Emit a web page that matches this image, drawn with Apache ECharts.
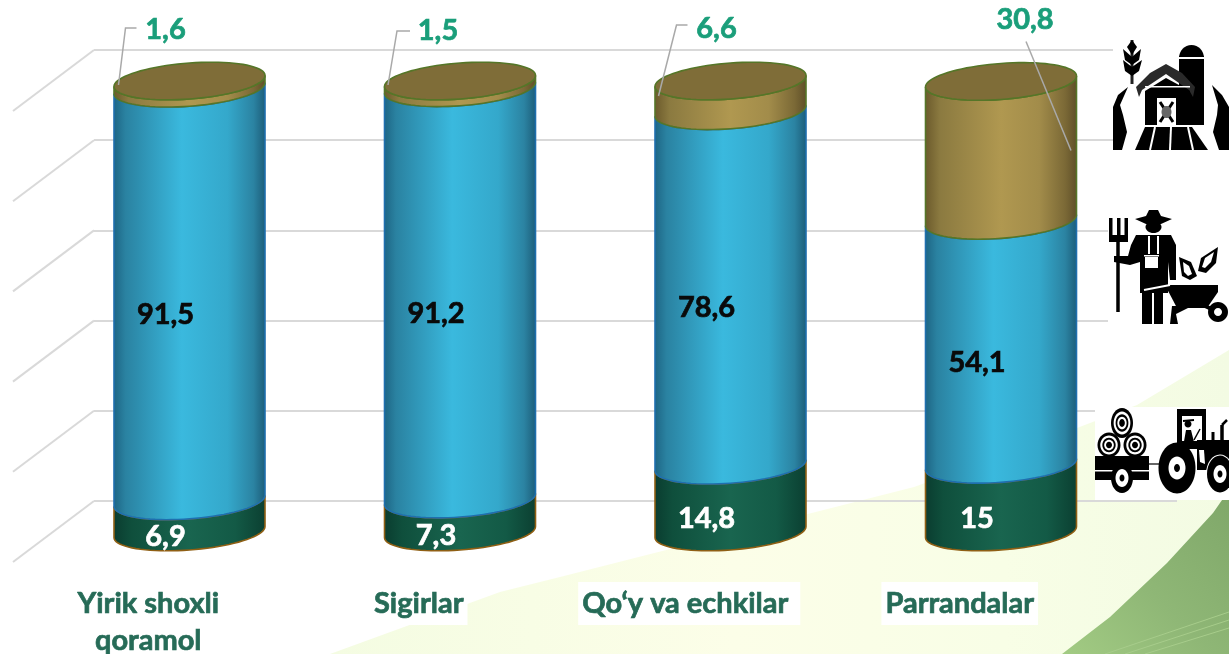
<!DOCTYPE html>
<html><head><meta charset="utf-8">
<style>html,body{margin:0;padding:0;background:#fff}#c{width:1229px;height:654px}</style>
<script src="https://cdn.jsdelivr.net/npm/echarts@6/dist/echarts.min.js"></script>
</head><body><div id="c"></div>
<script>
const categories = ['Yirik shoxli\nqoramol', 'Sigirlar', 'Qo‘y va echkilar', 'Parrandalar'];
const greenValues = [6.9, 7.3, 14.8, 15];
const blueValues = [91.5, 91.2, 78.6, 54.1];
const brownValues = [1.6, 1.5, 6.6, 30.8];
const wallTicks = [0, 20, 40, 60, 80, 100];

const FONT = 'Lato, "Open Sans", sans-serif';
const chart = echarts.init(document.getElementById('c'));
const LG = (stops) => new echarts.graphic.LinearGradient(0, 0, 1, 0, stops.map((c) => ({offset: c[0], color: c[1]})));
const A = 75.5, SKEW = 5.5, B = 18;

function arc(cx, cy, from, to) {
  const pts = [];
  for (let i = 0; i <= 40; i++) {
    const t = from + (to - from) * i / 40;
    pts.push([cx + A * Math.cos(t), cy - SKEW * Math.cos(t) + B * Math.sin(t)]);
  }
  return pts;
}
const fmt = (v) => String(v).replace('.', ',');

const styles = [
  {fill: LG([[0,'#0a3c2f'],[0.12,'#0f4f3c'],[0.5,'#19654f'],[0.8,'#135a46'],[1,'#0b3f31']]), stroke: '#8f5f14', label: '#fff'},
  {fill: LG([[0,'#1d6483'],[0.08,'#2a82a1'],[0.45,'#3ab9de'],[0.75,'#34a8cb'],[0.92,'#2b83a2'],[1,'#1c5c78']]), stroke: '#1f6fae', label: '#0a0a0a'},
  {fill: LG([[0,'#6a592b'],[0.1,'#8b7a40'],[0.5,'#b09850'],[0.75,'#a28c4a'],[0.92,'#7b6936'],[1,'#5e4e28']]), stroke: '#557628', label: '#1a9e7a'}
];
// leader-line bends and label spots for the outside labels, relative to the top of each cylinder
const leaderOffsets = [
  {pts: [[-71, 4], [-64, -53], [-53, -53]], text: [-24, -51]},
  {pts: [[-72, 4], [-63, -50], [-50, -50]], text: [-22, -50]},
  {pts: [[-72, 15], [-54, -56], [-43, -56]], text: [-14, -52]},
  {pts: [[70, 69], [25, -40]], text: [24, -62]}
];

function segmentSeries(k, values, lowerArrays) {
  const rows = values.map((v, i) => {
    const low = lowerArrays.reduce((s, a) => s + a[i], 0);
    return [i, low, low + v, v];
  });
  return {
    type: 'custom', xAxisIndex: 0, yAxisIndex: 0, z: 5 + k, silent: true, clip: false,
    data: rows,
    renderItem(params, api) {
      const i = api.value(0), low = api.value(1), up = api.value(2), val = api.value(3);
      const p0 = api.coord([i, low]), p1 = api.coord([i, up]);
      const cx = p0[0];
      const top = arc(cx, p1[1], Math.PI, 0);
      const bottom = arc(cx, p0[1], 0, Math.PI);
      const s = styles[k];
      const children = [{
        type: 'polygon', shape: {points: top.concat(bottom)},
        style: {fill: s.fill, stroke: s.stroke, lineWidth: 1.6}
      }];
      const txt = (x, y) => ({type: 'text', style: {text: fmt(val), x, y, fill: s.label,
        stroke: s.label, lineWidth: 0.7, font: 'bold 29px ' + FONT, align: 'center', verticalAlign: 'middle'}});
      if (k === 2) {
        const full = arc(cx, p1[1], Math.PI, 0).concat(arc(cx, p1[1], 0, -Math.PI));
        children.push({type: 'polygon', shape: {points: full}, style: {fill: '#7f6d38', stroke: s.stroke, lineWidth: 1.6}});
        const o = leaderOffsets[i];
        children.push({type: 'polyline', shape: {points: o.pts.map((q) => [cx + q[0], p1[1] + q[1]])},
          style: {fill: 'none', stroke: '#a9a9a9', lineWidth: 1.5}});
        children.push(txt(cx + o.text[0], p1[1] + o.text[1]));
      } else {
        const mid = api.coord([i, (low + up) / 2]);
        children.push(txt(cx - 24, mid[1] + 20));
      }
      return {type: 'group', children};
    }
  };
}

const wallSeries = {
  type: 'custom', xAxisIndex: 1, yAxisIndex: 1, z: 1, silent: true, clip: false,
  data: wallTicks.map((t) => [0, t]),
  renderItem(params, api) {
    const p = api.coord([api.value(0), api.value(1)]);
    return {type: 'line', shape: {x1: p[0], y1: p[1], x2: p[0] - 81, y2: p[1] + 61},
      style: {stroke: '#d9d9d9', lineWidth: 2}};
  }
};

// ---- decoration and icons ----
const Z = 20;
const K = '#000', W = '#fff';
const rect = (x, y, w, h, fill) => ({type: 'rect', z: Z, shape: {x, y, width: w, height: h}, style: {fill}});
const ell = (cx, cy, rx, ry, fill) => ({type: 'ellipse', z: Z, shape: {cx, cy, rx, ry}, style: {fill}});
const poly = (points, fill) => ({type: 'polygon', z: Z, shape: {points}, style: {fill}});
const ln = (x1, y1, x2, y2, w, c) => ({type: 'line', z: Z, shape: {x1, y1, x2, y2}, style: {stroke: c || K, lineWidth: w}});

const barn = [
  rect(1113, 40, 116, 110, W),
  ln(1132, 40, 1132, 84, 3, '#222'),
  poly([[1132,40],[1137,47],[1132,55],[1127,47]], K),
  poly([[1123,49],[1132,57],[1132,65],[1125,60]], K), poly([[1141,49],[1132,57],[1132,65],[1139,60]], K),
  poly([[1123,60],[1132,67],[1132,76],[1125,71]], K), poly([[1142,60],[1132,67],[1132,76],[1139,71]], K),
  rect(1179, 56, 25, 69, K), ell(1191.5, 58, 12.5, 13, K), rect(1179, 57, 25, 2, W),
  poly([[1136,87],[1150,73],[1166,64],[1182,73],[1195,87],[1193,97],[1189,90],[1166,74],[1142,90],[1139,97]], '#2a2a2a'),
  poly([[1145,91],[1166,78],[1190,91],[1190,125],[1145,125]], K),
  rect(1145, 86, 45, 1.5, W),
  rect(1157, 98, 19, 27, W), ln(1160, 102, 1173, 122, 3), ln(1173, 102, 1160, 122, 3), ell(1166.5, 112, 5, 6, '#666'),
  poly([[1128,87],[1118,95],[1113,107],[1113,150],[1122,150],[1127,132],[1123,115],[1120,105]], K),
  poly([[1212,85],[1222,95],[1229,107],[1229,150],[1219,150],[1213,132],[1217,115],[1218,105]], K),
  poly([[1145,127],[1192,127],[1208,150],[1135,150]], K),
  ln(1155, 127, 1150, 150, 2, W), ln(1171, 127, 1170, 150, 2, W), ln(1188, 127, 1193, 150, 2, W)
];
const farmer = [
  rect(1108, 200, 121, 128, W),
  poly([[1135,219],[1146,216],[1149,210],[1158,210],[1161,216],[1172,219],[1161,224],[1146,224]], K),
  ell(1153.5, 227, 8, 6, K),
  poly([[1136,235],[1171,235],[1176,245],[1176,280],[1170,280],[1168,262],[1168,293],[1140,293],[1140,262],[1130,265],[1114,262],[1114,256],[1128,256],[1131,245]], K),
  rect(1145, 257, 13, 11, W), rect(1148, 236, 2, 18, W), rect(1157, 236, 2, 18, W), rect(1144, 255, 15, 1.5, W),
  rect(1142, 293, 10, 31, K), rect(1154, 293, 9, 31, K),
  ln(1118, 240, 1118, 312, 3.5),
  rect(1109, 218, 3.5, 22, K), rect(1117, 218, 3.5, 22, K), rect(1124.5, 218, 3.5, 22, K), rect(1109, 235, 19, 7, K),
  poly([[1165,285],[1218,285],[1218,292],[1207,308],[1177,308]], K),
  poly([[1172,306],[1192,306],[1176,314],[1178,324],[1170,324]], K),
  ln(1205, 306, 1218, 312, 4),
  ln(1144, 290, 1170, 285, 2, W),
  ell(1218, 312, 10, 10, K), ell(1218, 312, 4, 4, W),
  poly([[1179,257],[1191,262],[1197,276],[1190,280],[1182,276]], K), poly([[1183,262],[1189,266],[1192,274],[1188,276],[1184,272]], W),
  poly([[1218,247],[1216,263],[1206,273],[1198,271],[1201,258]], K), poly([[1214,252],[1211,262],[1205,268],[1202,267],[1205,258]], W)
];
function bale(cx, cy, rx, ry) {
  const out = [];
  [[1, K], [0.76, W], [0.58, K], [0.42, W], [0.26, K]].forEach((r) => out.push(ell(cx, cy, rx * r[0], ry * r[0], r[1])));
  return out;
}
const tractor = [
  rect(1095, 407, 134, 93, W)
].concat(bale(1109, 445, 11.5, 12.5), bale(1135, 445, 11.5, 12.5), bale(1122, 423, 11, 15), [
  rect(1095, 456, 54, 24, K), rect(1095, 470, 54, 1.6, W),
  ell(1122, 478, 11, 15, K), ell(1122, 478, 6.5, 9, W), ell(1122, 478, 2.5, 3.5, K),
  ln(1149, 464, 1160, 464, 1.5, '#333'),
  rect(1177, 409, 28, 7, K), rect(1177, 409, 5, 35, K), rect(1202, 409, 4, 33, K),
  poly([[1186,430],[1191,430],[1194,442],[1198,447],[1183,447]], K), ell(1188, 424, 3.5, 3.5, K), ln(1183, 421, 1194, 420, 2), ln(1200, 429, 1194, 440, 1.5),
  rect(1197, 440, 32, 30, K), rect(1182, 441, 20, 8, K), poly([[1199,450],[1204,450],[1205,464],[1200,462]], W),
  ln(1222, 442, 1222, 425, 3.5), ln(1222, 425, 1227, 420, 2.5),
  ln(1213, 442, 1213, 432, 3),
  ell(1177, 468, 18.5, 25.5, K), ell(1177, 468, 8.5, 11.5, W), ell(1177, 468, 3, 4, K),
  ell(1220, 474, 14, 19.5, W), ell(1220, 474, 13, 18.5, K), ell(1220, 474, 6.5, 9, W), ell(1220, 474, 2.5, 3.5, K)
]);
const paleGrad = new echarts.graphic.LinearGradient(0, 0, 1, 0, [{offset:0,color:'#f4fce2'},{offset:0.45,color:'#fcfee8'},{offset:0.75,color:'#f8fee6'},{offset:1,color:'#f3fbe3'}]);
const fade = (a, b, c, d, w, col) => ({type: 'line', z: -8, shape: {x1: a, y1: b, x2: c, y2: d}, style: {stroke: col, lineWidth: w}});
const background = [
  {type: 'polygon', z: -10, shape: {points: [[330,654],[500,592],[560,577],[914,487],[1077,428],[1137,405],[1229,350],[1229,654]]},
   style: {fill: paleGrad}},
  {type: 'polygon', z: -9, shape: {points: [[1062,654],[1110,617],[1167,563],[1213,513],[1229,490],[1229,654]]},
   style: {fill: new echarts.graphic.LinearGradient(1, 0, 0, 1, [{offset:0,color:'#7fa769'},{offset:0.55,color:'#8fb776'},{offset:1,color:'#a2cb83'}])}},
  fade(1105, 654, 1229, 612, 1, '#a7cc8b'), fade(1125, 654, 1229, 620, 1, '#a7cc8b'), fade(1145, 654, 1229, 628, 1, '#a7cc8b')
];

chart.setOption({
  animation: false,
  backgroundColor: '#fff',
  graphic: {elements: background.concat(barn, farmer, tractor)},
  grid: [
    {left: 54.25, width: 1082, top: 81, bottom: 122, outerBoundsMode: 'none'},
    {left: 94, right: 52, top: 50, bottom: 153, outerBoundsMode: 'none'},
    {left: 13, width: 1082, top: 81, bottom: 122, outerBoundsMode: 'none'}
  ],
  xAxis: [
    {type: 'category', gridIndex: 0, data: categories, show: false},
    {type: 'value', gridIndex: 1, min: 0, max: 1, show: false},
    {type: 'category', gridIndex: 2,
     data: categories.map((c, i) => i === 2 ? {value: c, textStyle: {padding: [3, 12, 3, 4]}} : c),
     axisLine: {show: false}, axisTick: {show: false}, splitLine: {show: false},
     axisLabel: {interval: 0, margin: 50, color: '#266b57', fontFamily: FONT, fontWeight: 'bold', fontSize: 29,
       textBorderColor: '#266b57', textBorderWidth: 0.7,
       lineHeight: 37, backgroundColor: '#fff', padding: [3, 4, 3, 4]}}
  ],
  yAxis: [
    {type: 'value', gridIndex: 0, min: 0, max: 100, show: false},
    {type: 'value', gridIndex: 1, min: 0, max: 100, interval: 20,
     axisLine: {show: false}, axisTick: {show: false}, axisLabel: {show: false},
     splitLine: {show: true, lineStyle: {color: '#d9d9d9', width: 2}}},
    {type: 'value', gridIndex: 2, min: 0, max: 100, show: false}
  ],
  series: [
    wallSeries,
    segmentSeries(0, greenValues, []),
    segmentSeries(1, blueValues, [greenValues]),
    segmentSeries(2, brownValues, [greenValues, blueValues])
  ]
});
</script></body></html>
